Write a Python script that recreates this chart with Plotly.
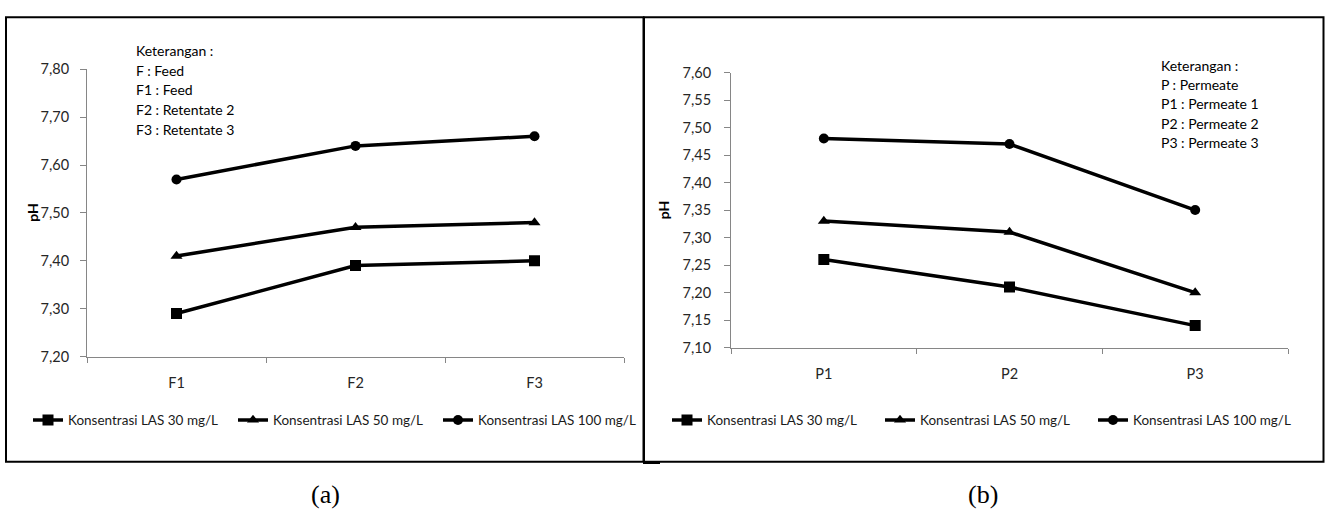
import plotly.graph_objects as go

# ---- data -------------------------------------------------------------
categories_a = ["F1", "F2", "F3"]
ph_a_30 = [7.29, 7.39, 7.40]
ph_a_50 = [7.41, 7.47, 7.48]
ph_a_100 = [7.57, 7.64, 7.66]

categories_b = ["P1", "P2", "P3"]
ph_b_30 = [7.26, 7.21, 7.14]
ph_b_50 = [7.33, 7.31, 7.20]
ph_b_100 = [7.48, 7.47, 7.35]

series_names = [
    "Konsentrasi LAS 30 mg/L",
    "Konsentrasi LAS 50 mg/L",
    "Konsentrasi LAS 100 mg/L",
]

notes_a = ["Keterangan :", "F : Feed", "F1 : Feed", "F2 : Retentate 2", "F3 : Retentate 3"]
notes_b = ["Keterangan :", "P : Permeate", "P1 : Permeate 1", "P2 : Permeate 2", "P3 : Permeate 3"]

panel_labels = ["(a)", "(b)"]

# ---- page geometry (pixels) -------------------------------------------
W, H = 1327, 522
FONT = "Lato"


def px(x):
    return x / W


def py(y):
    return 1 - y / H


symbols = ["square", "triangle-up", "circle"]
sizes = [11, 10.5, 10]

fig = go.Figure()

for vals, name, sym, sz in zip([ph_a_30, ph_a_50, ph_a_100], series_names, symbols, sizes):
    fig.add_trace(go.Scatter(
        x=categories_a, y=vals, name=name, mode="lines+markers",
        line=dict(color="black", width=3.5),
        marker=dict(symbol=sym, size=sz, color="black"),
        xaxis="x", yaxis="y", legend="legend",
    ))

for vals, name, sym, sz in zip([ph_b_30, ph_b_50, ph_b_100], series_names, symbols, sizes):
    fig.add_trace(go.Scatter(
        x=categories_b, y=vals, name=name, mode="lines+markers",
        line=dict(color="black", width=3.5),
        marker=dict(symbol=sym, size=sz, color="black"),
        xaxis="x2", yaxis="y2", legend="legend2",
    ))

axis_gray = "#868686"
tick_font = dict(family=FONT, size=14.5, color="#262626")

common_x = dict(
    type="category", range=[-0.5, 2.5], showline=True, linecolor=axis_gray,
    linewidth=1, ticks="outside", ticklen=5, tickcolor=axis_gray,
    tickson="boundaries", showgrid=False, zeroline=False,
    tickfont=tick_font, ticklabelstandoff=13, fixedrange=True,
)
common_y = dict(
    showline=True, linecolor=axis_gray, linewidth=1, ticks="outside",
    ticklen=6, tickcolor=axis_gray, showgrid=False, zeroline=False,
    tickformat=".2f", tickfont=tick_font, fixedrange=True,
)

legend_font = dict(family=FONT, size=13.5, color="#1a1a1a")

fig.update_layout(
    width=W, height=H,
    margin=dict(l=0, r=0, t=0, b=0),
    paper_bgcolor="white", plot_bgcolor="white",
    separators=",.",
    xaxis=dict(common_x, domain=[px(87), px(624)], anchor="y"),
    yaxis=dict(common_y, domain=[py(359.3), py(62.3)], range=[7.2, 7.8],
               dtick=0.1, tick0=7.2, anchor="x", ticklabelstandoff=8),
    xaxis2=dict(common_x, domain=[px(731), px(1288)], anchor="y2"),
    yaxis2=dict(common_y, domain=[py(350), py(65.7)], range=[7.1, 7.6],
                dtick=0.05, tick0=7.1, anchor="x2", ticklabelstandoff=10),
    legend=dict(
        orientation="h", x=px(28), y=py(425), xanchor="left", yanchor="middle",
        entrywidth=160, entrywidthmode="pixels", font=legend_font,
        bgcolor="rgba(0,0,0,0)", borderwidth=0,
    ),
    legend2=dict(
        orientation="h", x=px(667), y=py(425), xanchor="left", yanchor="middle",
        entrywidth=168, entrywidthmode="pixels", font=legend_font,
        bgcolor="rgba(0,0,0,0)", borderwidth=0,
    ),
)

# ---- frames around each panel -----------------------------------------
fig.add_shape(type="rect", xref="paper", yref="paper",
              x0=px(6), x1=px(643.5), y0=py(468), y1=py(8.5),
              line=dict(color="black", width=2), layer="below")
fig.add_shape(type="rect", xref="paper", yref="paper",
              x0=px(644), x1=px(1323.5), y0=py(468), y1=py(8.5),
              line=dict(color="black", width=2), layer="below")
fig.add_shape(type="line", xref="paper", yref="paper",
              x0=px(643), x1=px(660), y0=py(469), y1=py(469),
              line=dict(color="black", width=2.5))

# ---- axis titles ---------------------------------------------------------
for x, y in [(22, 210), (663, 208)]:
    fig.add_annotation(text="<b>pH</b>", x=px(x), y=py(y), xref="paper", yref="paper",
                       textangle=-90, showarrow=False,
                       font=dict(family=FONT, size=14, color="black"))

# ---- explanatory notes -------------------------------------------------
note_font = dict(family=FONT, size=14, color="black")
for i, txt in enumerate(notes_a):
    fig.add_annotation(text=txt, x=px(134), y=py(43.3 + 20.2 * i), xref="paper", yref="paper",
                       xanchor="left", yanchor="middle", showarrow=False, font=note_font)
for i, txt in enumerate(notes_b):
    fig.add_annotation(text=txt, x=px(1159), y=py(58.3 + 19.9 * i), xref="paper", yref="paper",
                       xanchor="left", yanchor="middle", showarrow=False, font=note_font)

# ---- panel captions, centred under each framed panel --------------------
for txt, x in zip(panel_labels, [325, 983]):
    fig.add_annotation(text=txt, x=px(x), y=py(502), xref="paper", yref="paper",
                       showarrow=False, xanchor="center", yanchor="middle",
                       font=dict(family="Liberation Serif", size=26, color="black"))

fig.write_html("out.html")
